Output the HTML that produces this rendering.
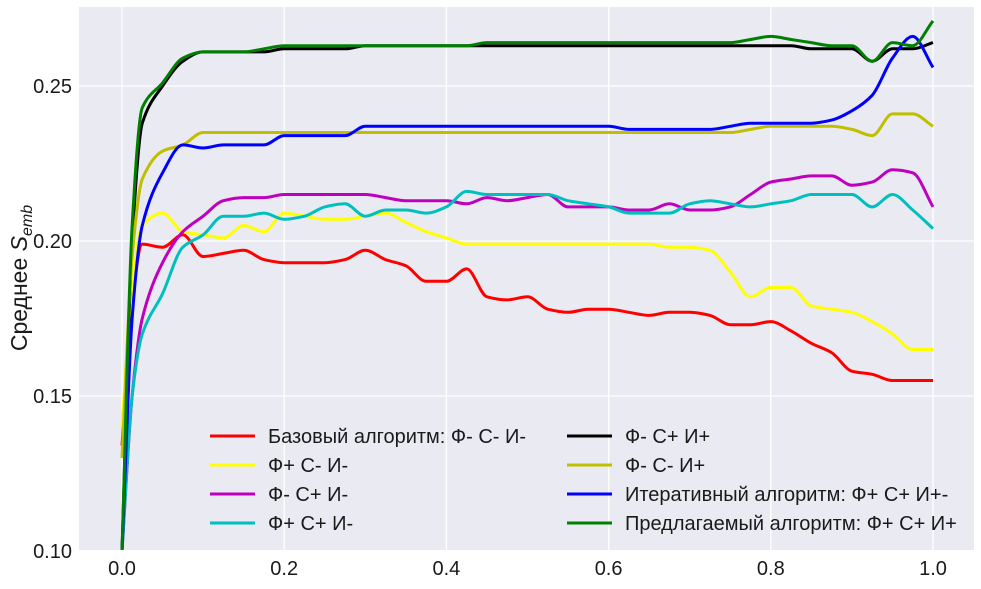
<!DOCTYPE html>
<html><head><meta charset="utf-8"><style>
body{margin:0;background:#fff;}
svg text{font-family:"Liberation Sans","DejaVu Sans",sans-serif;fill:#1a1a1a;}
</style></head><body>
<svg id="c" width="981" height="584"></svg>
<script>
const xs=[0,.0125,.025,.05,.075,.1,.125,.15,.175,.2,.225,.25,.275,.3,.325,.35,.375,.4,.425,.45,.475,.5,.525,.55,.575,.6,.625,.65,.675,.7,.725,.75,.775,.8,.825,.85,.875,.9,.925,.95,.975,1];
const red=[.134,.180,.199,.198,.202,.195,.196,.197,.194,.193,.193,.193,.194,.197,.194,.192,.187,.187,.191,.182,.181,.182,.178,.177,.178,.178,.177,.176,.177,.177,.176,.173,.173,.174,.171,.167,.164,.158,.157,.155,.155,.155];
const yellow=[.14,.185,.205,.209,.203,.202,.201,.205,.203,.209,.208,.207,.207,.208,.209,.206,.203,.201,.199,.199,.199,.199,.199,.199,.199,.199,.199,.199,.198,.198,.197,.190,.182,.185,.185,.179,.178,.177,.174,.170,.165,.165];
const magenta=[.10,.150,.175,.193,.203,.208,.213,.214,.214,.215,.215,.215,.215,.215,.214,.213,.213,.213,.212,.214,.213,.214,.215,.211,.211,.211,.210,.210,.212,.210,.210,.211,.215,.219,.220,.221,.221,.218,.219,.223,.222,.211];
const cyan=[.10,.150,.170,.183,.198,.202,.208,.208,.209,.207,.208,.211,.212,.208,.210,.210,.209,.211,.216,.215,.215,.215,.215,.213,.212,.211,.209,.209,.209,.212,.213,.212,.211,.212,.213,.215,.215,.215,.211,.215,.210,.204];
const black=[.10,.200,.238,.250,.258,.261,.261,.261,.261,.262,.262,.262,.262,.263,.263,.263,.263,.263,.263,.263,.263,.263,.263,.263,.263,.263,.263,.263,.263,.263,.263,.263,.263,.263,.263,.262,.262,.262,.258,.262,.262,.264];
const olive=[.13,.195,.220,.229,.231,.235,.235,.235,.235,.235,.235,.235,.235,.235,.235,.235,.235,.235,.235,.235,.235,.235,.235,.235,.235,.235,.235,.235,.235,.235,.235,.235,.236,.237,.237,.237,.237,.236,.234,.241,.241,.237];
const blue=[.10,.175,.205,.222,.231,.230,.231,.231,.231,.234,.234,.234,.234,.237,.237,.237,.237,.237,.237,.237,.237,.237,.237,.237,.237,.237,.236,.236,.236,.236,.236,.237,.238,.238,.238,.238,.239,.242,.247,.259,.266,.256];
const green=[.10,.205,.243,.251,.259,.261,.261,.261,.262,.263,.263,.263,.263,.263,.263,.263,.263,.263,.263,.264,.264,.264,.264,.264,.264,.264,.264,.264,.264,.264,.264,.264,.265,.266,.265,.264,.263,.263,.258,.264,.263,.271];
const xTicks=[0,.2,.4,.6,.8,1];
const xTickLabels=["0.0","0.2","0.4","0.6","0.8","1.0"];
const yTicks=[.10,.15,.20,.25];
const yTickLabels=["0.10","0.15","0.20","0.25"];
const seriesNames=["Базовый алгоритм: Ф- С- И-","Ф+ С- И-","Ф- С+ И-","Ф+ С+ И-","Ф- С+ И+","Ф- С- И+","Итеративный алгоритм: Ф+ С+ И+-","Предлагаемый алгоритм: Ф+ С+ И+"];
const seriesColors=["#ff0000","#ffff00","#bf00bf","#00bfbf","#000000","#bfbf00","#0000ff","#008000"];
const seriesData=[red,yellow,magenta,cyan,black,olive,blue,green];
const seriesKeys=["red","yellow","magenta","cyan","black","olive","blue","green"];

const L=79,R=974,T=7,B=550;
const X=v=>122+v*811;
const Y=v=>241-(v-0.20)*3100;
const svg=document.getElementById('c');
const NS="http://www.w3.org/2000/svg";
function mk(t,a,p){const e=document.createElementNS(NS,t);for(const k in a)e.setAttribute(k,a[k]);(p||svg).appendChild(e);return e;}
const bg=mk('rect',{x:L,y:T,width:R-L,height:B-T,fill:'#eaeaf2'});


xTicks.forEach((t,i)=>{
 const g=mk('line',{x1:X(t),x2:X(t),y1:T,y2:B,stroke:'#fff','stroke-width':1.3});
 
 
 const tx=mk('text',{x:X(t),y:575,'text-anchor':'middle','font-size':20});
 tx.textContent=xTickLabels[i];
 
 
});
yTicks.forEach((t,i)=>{
 const g=mk('line',{x1:L,x2:R,y1:Y(t),y2:Y(t),stroke:'#fff','stroke-width':1.3});
 
 
 const tx=mk('text',{x:72,y:Y(t)+7,'text-anchor':'end','font-size':20});
 tx.textContent=yTickLabels[i];
 
 
});
const clip=mk('clipPath',{id:'cp'});mk('rect',{x:L,y:T,width:R-L,height:B-T},clip);
function path(vals){
 const p=xs.map((x,i)=>[X(x),Y(vals[i])]);
 const n=p.length,m=new Array(n),d0=[];
 for(let i=0;i<n-1;i++)d0.push((p[i+1][1]-p[i][1])/(p[i+1][0]-p[i][0]));
 m[0]=d0[0];m[n-1]=d0[n-2];
 for(let i=1;i<n-1;i++){m[i]=(d0[i-1]*d0[i]<=0)?0:2/(1/d0[i-1]+1/d0[i]);}
 let d='M'+p[0][0]+','+p[0][1];
 for(let i=0;i<n-1;i++){
  const h=(p[i+1][0]-p[i][0])/3;
  d+=' C'+(p[i][0]+h)+','+(p[i][1]+m[i]*h)+' '+(p[i+1][0]-h)+','+(p[i+1][1]-m[i+1]*h)+' '+p[i+1][0]+','+p[i+1][1];
 }
 return d;
}
seriesData.forEach((s,i)=>{
 const e=mk('path',{d:path(s),fill:'none',stroke:seriesColors[i],'stroke-width':3,'clip-path':'url(#cp)','stroke-linejoin':'round'});
 
 
});
const yt=mk('text',{x:0,y:0,'font-size':23,transform:'translate(27,278) rotate(-90)','text-anchor':'middle'});
yt.innerHTML='Среднее  <tspan font-style="italic">S</tspan><tspan font-style="italic" font-size="16" dy="5">emb</tspan>';


seriesNames.forEach((n,i)=>{
 const col=i<4?0:1,row=i%4;
 const lx=col?567:210,ly=436+row*29;
 const g=mk('g',{});
 
 
 mk('line',{x1:lx,x2:lx+45,y1:ly,y2:ly,stroke:seriesColors[i],'stroke-width':3},g);
 const t=mk('text',{x:lx+58,y:ly+7,'font-size':20},g);t.textContent=n;
});
</script>
</body></html>
